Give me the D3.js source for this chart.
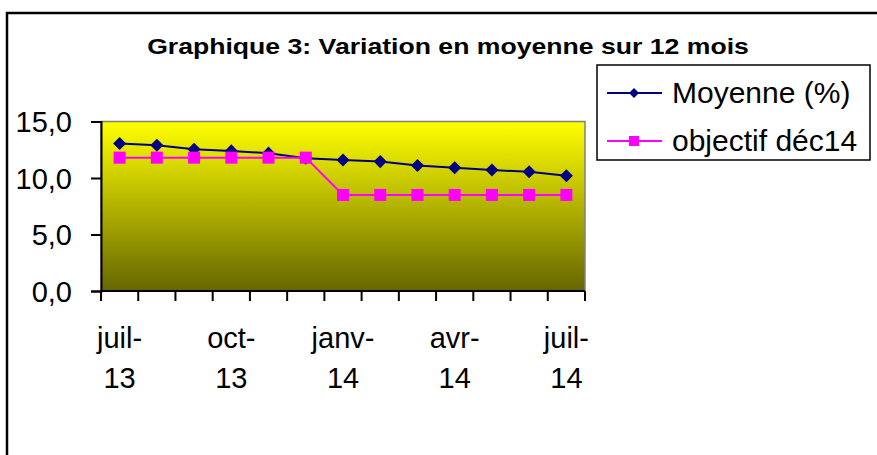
<!DOCTYPE html>
<html>
<head>
<meta charset="utf-8">
<script src="https://cdn.jsdelivr.net/npm/d3@7"></script>
<style>
  body { margin: 0; background: #fff; }
  svg { display: block; font-family: Arial, "Liberation Sans", sans-serif; }
</style>
</head>
<body>
<svg id="chart" width="877" height="455"></svg>
<script>
const width = 877;
const height = 455;

// data
const months = ["juil-13", "août-13", "sept-13", "oct-13", "nov-13", "déc-13",
  "janv-14", "févr-14", "mars-14", "avr-14", "mai-14", "juin-14", "juil-14"];
const moyenne = [13.05, 12.9, 12.55, 12.4, 12.2, 11.75, 11.6, 11.45, 11.1, 10.9, 10.7, 10.55, 10.2];
const objectif = [11.8, 11.8, 11.8, 11.8, 11.8, 11.8, 8.5, 8.5, 8.5, 8.5, 8.5, 8.5, 8.5];
const yTicks = [0, 5, 10, 15];
const labelMonths = ["juil-13", "oct-13", "janv-14", "avr-14", "juil-14"];

const plot = { left: 101, right: 585, top: 121.5, bottom: 291 };

const svg = d3.select("#chart");

// outer frame (runs off the right / bottom of the picture)
svg.append("rect")
  .attr("x", 7)
  .attr("y", 13)
  .attr("width", 900)
  .attr("height", 500)
  .attr("fill", "none")
  .attr("stroke", "#000")
  .attr("stroke-width", 2.5);

// title looks stretched sideways in the original
svg.append("text")
  .attr("transform", "translate(448,54) scale(1.21,1)")
  .attr("text-anchor", "middle")
  .attr("font-weight", "bold")
  .attr("font-size", 22)
  .text("Graphique 3: Variation en moyenne sur 12 mois");

const x = d3.scaleBand().domain(months).range([plot.left, plot.right]);
const y = d3.scaleLinear().domain([0, 15]).range([plot.bottom, plot.top]);

// gradient background
const defs = svg.append("defs");
const grad = defs.append("linearGradient")
  .attr("id", "bg")
  .attr("x1", 0).attr("y1", 0)
  .attr("x2", 0).attr("y2", 1);
grad.append("stop").attr("offset", "0%").attr("stop-color", "#ffff00");
grad.append("stop").attr("offset", "100%").attr("stop-color", "#666600");

svg.append("rect")
  .attr("x", plot.left)
  .attr("y", plot.top)
  .attr("width", plot.right - plot.left)
  .attr("height", plot.bottom - plot.top)
  .attr("fill", "url(#bg)")
  .attr("stroke", "#808080")
  .attr("stroke-width", 1.5);

// y axis
const yAxis = svg.append("g")
  .attr("transform", `translate(${plot.left},0)`)
  .call(
    d3.axisLeft(y)
      .tickValues(yTicks)
      .tickSize(10)
      .tickPadding(19)
      .tickFormat((d) => d3.format(".1f")(d).replace(".", ","))
  );
yAxis.select(".domain").attr("stroke-width", 2);
yAxis.selectAll(".tick line").attr("stroke-width", 2);
yAxis.selectAll("text")
  .attr("font-size", 29)
  .attr("font-family", "Arial, 'Liberation Sans', sans-serif")
  .attr("fill", "#000")
  .attr("dy", "0.35em");

// x axis: ticks on the band edges
const xAxis = svg.append("g").attr("transform", `translate(0,${plot.bottom})`);
xAxis.append("line")
  .attr("x1", plot.left).attr("x2", plot.right)
  .attr("stroke", "#000").attr("stroke-width", 2);
xAxis.selectAll(".edge")
  .data(months.map((m) => x(m)).concat([x.range()[1]]))
  .enter()
  .append("line")
  .attr("class", "edge")
  .attr("x1", (d) => d).attr("x2", (d) => d)
  .attr("y1", 0).attr("y2", 10)
  .attr("stroke", "#000").attr("stroke-width", 2);

const xLabels = xAxis.selectAll(".lbl")
  .data(labelMonths)
  .enter()
  .append("text")
  .attr("class", "lbl")
  .attr("text-anchor", "middle")
  .attr("font-size", 29)
  .attr("transform", (d) => `translate(${x(d) + x.bandwidth() / 2},0)`);
xLabels.append("tspan").attr("x", 0).attr("y", 57).text((d) => d.split("-")[0] + "-");
xLabels.append("tspan").attr("x", 0).attr("y", 97).text((d) => d.split("-")[1]);

const cx = (d, i) => x(months[i]) + x.bandwidth() / 2;
const line = (vals) => d3.line().x((d, i) => cx(d, i)).y((d) => y(d))(vals);

// series
svg.append("path")
  .attr("d", line(moyenne))
  .attr("fill", "none")
  .attr("stroke", "#000080")
  .attr("stroke-width", 2);
svg.append("path")
  .attr("d", line(objectif))
  .attr("fill", "none")
  .attr("stroke", "#ff00ff")
  .attr("stroke-width", 2);

const diamond = d3.symbol().type(d3.symbolSquare).size(85);
svg.selectAll(".dia")
  .data(moyenne)
  .enter()
  .append("path")
  .attr("class", "dia")
  .attr("d", diamond)
  .attr("fill", "#000080")
  .attr("transform", (d, i) => `translate(${cx(d, i)},${y(d)}) rotate(45)`);

svg.selectAll(".sq")
  .data(objectif)
  .enter()
  .append("rect")
  .attr("class", "sq")
  .attr("x", (d, i) => cx(d, i) - 6)
  .attr("y", (d) => y(d) - 6)
  .attr("width", 12)
  .attr("height", 12)
  .attr("fill", "#ff00ff");

// legend
const legend = svg.append("g");
legend.append("rect")
  .attr("x", 597).attr("y", 65)
  .attr("width", 273).attr("height", 95)
  .attr("fill", "#fff")
  .attr("stroke", "#000")
  .attr("stroke-width", 1.5);

const items = [
  { name: "Moyenne (%)", color: "#000080", mark: "diamond" },
  { name: "objectif déc14", color: "#ff00ff", mark: "square" },
];
const row = legend.selectAll(".item")
  .data(items)
  .enter()
  .append("g")
  .attr("transform", (d, i) => `translate(0,${93 + i * 48})`);
row.append("line")
  .attr("x1", 607).attr("x2", 662)
  .attr("stroke", (d) => d.color)
  .attr("stroke-width", 2);
row.each(function (d) {
  const g = d3.select(this);
  if (d.mark === "diamond") {
    g.append("path").attr("d", d3.symbol().type(d3.symbolSquare).size(50))
      .attr("fill", d.color).attr("transform", "translate(634,0) rotate(45)");
  } else {
    g.append("rect").attr("x", 629).attr("y", -5).attr("width", 10).attr("height", 10)
      .attr("fill", d.color);
  }
});
row.append("text")
  .attr("x", 672)
  .attr("y", 10)
  .attr("font-size", 30)
  .text((d) => d.name);
</script>
</body>
</html>
